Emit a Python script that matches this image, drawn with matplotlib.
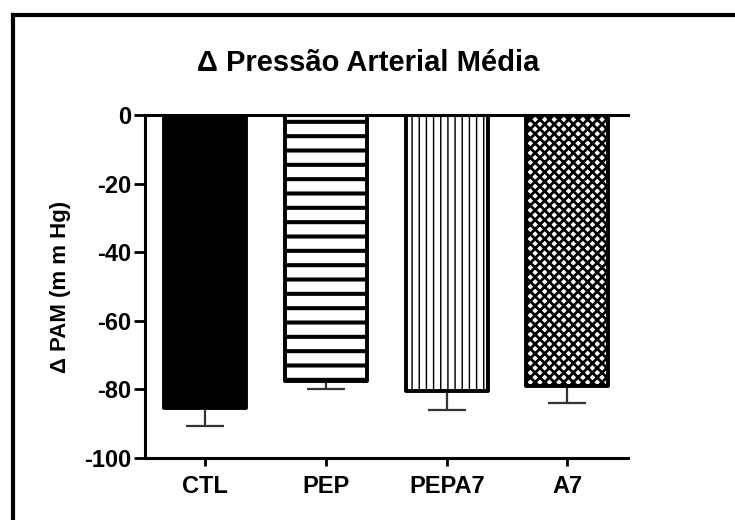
import matplotlib
matplotlib.use('Agg')
import matplotlib.pyplot as plt
from matplotlib.lines import Line2D
import numpy as np

# dpi 86 -> o espaçamento das hachuras fica parecido com o original
DPI = 86
K = 100 / DPI

plt.rcParams['font.family'] = ['Liberation Sans', 'DejaVu Sans']
plt.rcParams['font.weight'] = 'bold'
plt.rcParams['axes.unicode_minus'] = False

# dados
grupos = ['CTL', 'PEP', 'PEPA7', 'A7']
media = [-85.5, -77.6, -80.3, -79.1]
epm = [5.2, 2.2, 5.7, 4.9]
cores = ['black', 'white', 'white', 'white']
hachuras = [None, '-', '||', 'xxx']
hachura_lw = [1.0, 3.4, 1.2, 2.3]

fig = plt.figure(figsize=(736 / DPI, 520 / DPI), dpi=DPI)
ax = fig.add_axes([0.197, 0.119, 0.656, 0.660])

x = np.arange(len(grupos))

# barras de erro (apenas para baixo)
ax.errorbar(x, media, yerr=[epm, np.zeros(len(epm))], fmt='none',
            ecolor='#333333', elinewidth=1.6 * K, capsize=14 * K,
            capthick=1.6 * K, zorder=1)


def com_hachura_lw(p, lw):
    desenho = p.draw

    def draw(renderer):
        with plt.rc_context({'hatch.linewidth': lw}):
            desenho(renderer)
    p.draw = draw


for i in range(len(grupos)):
    barra = ax.bar(x[i], media[i], width=0.68, color=cores[i],
                   edgecolor='black', linewidth=2.8 * K, hatch=hachuras[i],
                   zorder=2)
    for p in barra:
        p.set_joinstyle('round')
        if hasattr(p, 'set_hatch_linewidth'):
            p.set_hatch_linewidth(hachura_lw[i])
        com_hachura_lw(p, hachura_lw[i])

ax.set_xlim(-0.5, 3.5)
ax.set_ylim(-100, 0)
ax.set_yticks([0, -20, -40, -60, -80, -100])
ax.set_xticks(x)
ax.set_xticklabels(grupos, fontsize=17 * K, fontweight='bold')
ax.tick_params(axis='y', labelsize=17 * K, length=8 * K, width=2 * K, pad=2 * K)
ax.tick_params(axis='x', length=6 * K, width=2 * K, pad=6 * K)
for lab in ax.get_yticklabels():
    lab.set_fontweight('bold')

ax.spines['right'].set_visible(False)
for s in ['left', 'bottom', 'top']:
    ax.spines[s].set_linewidth(2.2 * K)

ax.set_ylabel('Δ PAM (m m Hg)', fontsize=16 * K, fontweight='bold',
              labelpad=9 * K)
fig.text(0.5, 0.879, 'Δ Pressão Arterial Média', ha='center', va='center',
         fontsize=21 * K, fontweight='bold')

# moldura
fig.add_artist(Line2D([0.0177, 0.0177], [0, 0.972], transform=fig.transFigure,
                      color='black', linewidth=3 * K))
fig.add_artist(Line2D([0.0177, 1], [0.972, 0.972], transform=fig.transFigure,
                      color='black', linewidth=3 * K))

plt.savefig('out.png', dpi=DPI)
